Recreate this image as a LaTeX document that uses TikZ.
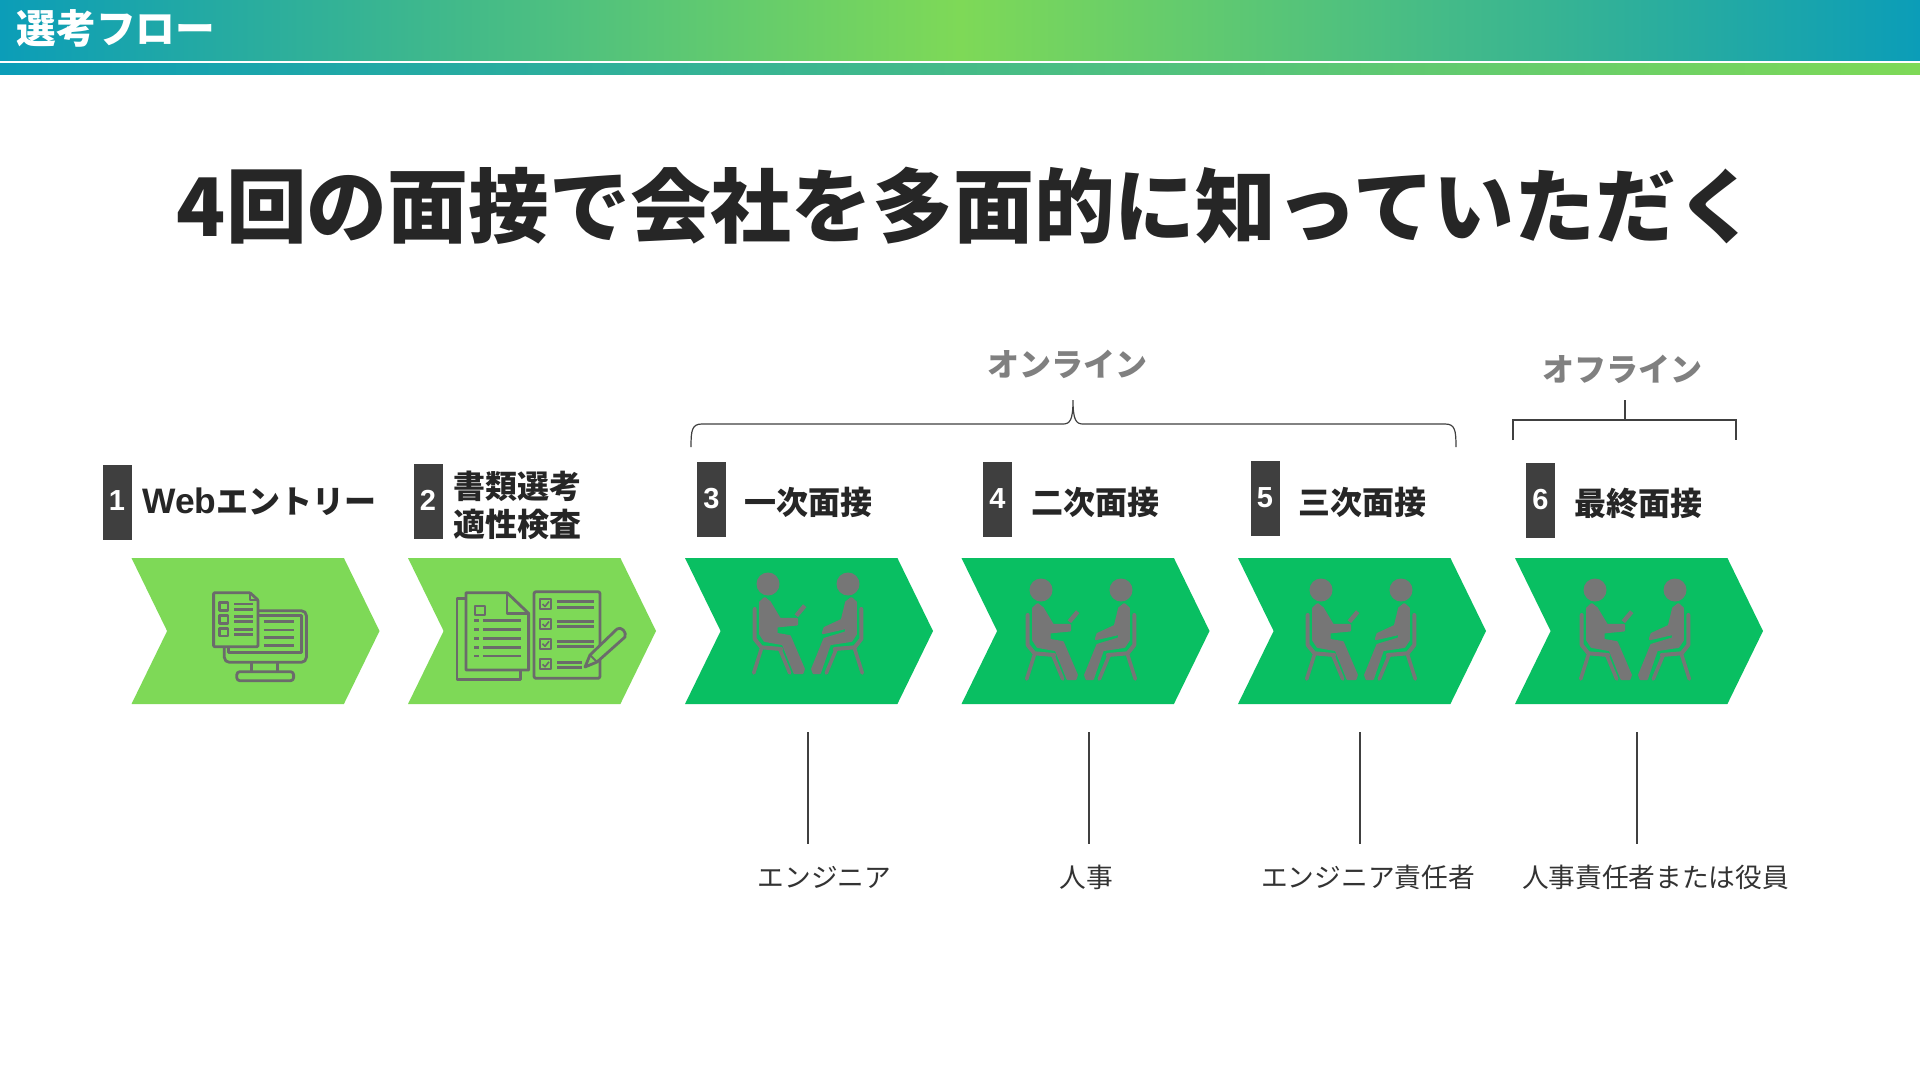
\documentclass[tikz,border=0pt]{standalone}
\usepackage{fontspec}
\usetikzlibrary{shapes.symbols}
\setmainfont{Noto Sans CJK JP}
\newfontfamily\titlefont{Noto Sans CJK JP Black}
\newfontfamily\mediumfont{Noto Sans CJK JP Medium}
\newfontfamily\latinfont{Liberation Sans}
\definecolor{tealc}{HTML}{0B9DB8}
\definecolor{limec}{HTML}{7ED957}
\definecolor{deepc}{HTML}{09BF62}
\definecolor{boxc}{HTML}{3F3F3F}
\definecolor{inkc}{HTML}{262626}
\definecolor{iconc}{HTML}{6B6B6B}
\definecolor{seatc}{HTML}{767676}
\tikzset{
	chevron/.style={shape=signal, signal from=west, signal to=east, signal pointer angle=128,
		minimum width=248, minimum height=146, inner sep=0, outer sep=0},
	numbox/.style={fill=boxc, text=white, minimum width=29, minimum height=75, inner sep=0,
		font=\latinfont\bfseries\fontsize{29}{29}\selectfont},
	steptext/.style={text=inkc, align=center, inner sep=0, font=\bfseries\fontsize{32}{38}\selectfont},
	modetext/.style={text=black!50, inner sep=0, font=\bfseries\fontsize{32}{38}\selectfont},
	whotext/.style={text=black!80, inner sep=0, font=\fontsize{26.7}{30}\selectfont},
	guide/.style={draw=black!75, line width=1.2},
	iconline/.style={draw=iconc, line width=2.8, line join=round},
	bodyfill/.style={fill=seatc, draw=seatc, line width=2.4, line join=round},
	seatchair/.pic={
		\draw[seatc, line width=4, line cap=round, line join=round] (-53.3,25) -- (-53.3,55) -- (-46.7,63.3) -- (-26.7,65);
		\draw[seatc, line width=3.6, line cap=round] (-46.7,65) -- (-54.3,89);
		\draw[seatc, line width=3.6, line cap=round] (-28.3,65) -- (-18.3,89);
	},
	sitters/.pic={
		\pic {seatchair};
		\pic[xscale=-1] {seatchair};
		\fill[seatc] (-40,0) circle (11.5);
		\fill[seatc] (40,0) circle (11.5);
		\path[bodyfill] (-47.7,18.3) -- (-43.3,14.3) -- (-38.3,18.3) -- (-28.3,35) -- (-11,35) -- (-11,40.3)
			-- (-31.7,42.3) -- (-31.7,50) -- (-18.3,52.3) -- (-4.3,85) -- (-5.7,89) -- (-13.3,89)
			-- (-25,60) -- (-43.3,56.7) -- (-47.7,50) -- cycle;
		\draw[seatc, line width=4.4] (-11.7,31.7) -- (-3.3,21.7);
		\path[bodyfill] (38.3,18.3) -- (43.3,14.3) -- (47.7,18.3) -- (47.7,50) -- (43.3,56.7) -- (21.7,60)
			-- (11.7,89) -- (5.7,89) -- (4.3,85) -- (16.5,55) -- (38,48.5) -- cycle;
		\path[bodyfill] (38.3,18.3) -- (34,36) -- (16.7,44) -- (15,49) -- (37,44) -- cycle;
	},
}
\begin{document}
\begin{tikzpicture}[x=1pt, y=-1pt]
	\useasboundingbox (0,0) rectangle (1920,1080);
	\fill[white] (0,0) rectangle (1920,1080);

	% header
	\shade[left color=tealc, right color=tealc, middle color=limec] (0,0) rectangle (1920,60);
	\shade[left color=tealc, right color=limec] (0,63) rectangle (1920,74);
	\node[text=white, inner sep=0, font=\bfseries\fontsize{39.7}{40}\selectfont] (pagehead) at (116,28) {選考フロー};
	\node[text=inkc, inner sep=0, font=\titlefont\fontsize{80.8}{81}\selectfont] (maintitle) at (967,206) {4回の面接で会社を多面的に知っていただく};

	% chevrons
	\foreach \i/\xpos/\col in {1/255.5/limec, 2/532/limec, 3/809/deepc, 4/1085.5/deepc, 5/1362/deepc, 6/1639/deepc}
		\node[chevron, fill=\col] (chev\i) at (\xpos,631) {};

	% step headings
	\foreach \i/\xpos/\ypos in {1/117/502, 2/428/501, 3/711.5/499.5, 4/997.5/499.5, 5/1265/498.5, 6/1540.5/500.5}
		\node[numbox] (num\i) at (\xpos,\ypos) {\raisebox{2pt}{\i}};
	\node[steptext] (step1) at (259.5,502) {{\latinfont\bfseries\fontsize{35.4}{38}\selectfont Web}{\mediumfont エントリー}};
	\node[steptext] (step2) at (517,505) {書類選考\\適性検査};
	\node[steptext] (step3) at (808,502) {一次面接};
	\node[steptext] (step4) at (1095,502) {二次面接};
	\node[steptext] (step5) at (1362,502) {三次面接};
	\node[steptext] (step6) at (1638,503) {最終面接};

	% online, offline
	\node[modetext] (online) at (1067,364) {オンライン};
	\node[modetext] (offline) at (1622,369) {オフライン};
	\draw[guide] (691,447) .. controls (691,430) and (692,424) .. (702,424) -- (1063,424)
		.. controls (1070,424) and (1073,420) .. (1073,400)
		.. controls (1073,420) and (1076,424) .. (1083,424) -- (1445,424)
		.. controls (1455,424) and (1456,430) .. (1456,447);
	\draw[guide] (1513,440) -- (1513,420) -- (1736,420) -- (1736,440);
	\draw[guide] (1625,400) -- (1625,420);

	% who
	\node[whotext] (who3) at (824.5,877) {エンジニア};
	\node[whotext] (who4) at (1086,877) {人事};
	\node[whotext] (who5) at (1368,877) {エンジニア責任者};
	\node[whotext] (who6) at (1655.5,877) {人事責任者または役員};
	\foreach \i/\xpos in {3/808, 4/1089, 5/1360, 6/1637} {
		\coordinate (top\i) at (\xpos,732);
		\coordinate (end\i) at (\xpos,844);
		\draw[guide] (top\i) -- (end\i);
	}

	% people
	\pic at (808,584) {sitters};
	\pic at (1081,590) {sitters};
	\pic at (1361,590) {sitters};
	\pic at (1635,590) {sitters};

	% computer icon
	\draw[iconline, rounded corners=1] (258,646.7) -- (213.6,646.7) -- (213.6,592.7) -- (250,592.7) -- (258,600) -- cycle;
	\draw[iconline] (250,592.7) -- (250,600) -- (258,600);
	\foreach \y in {602.7, 615.7, 628.3}
		\draw[iconline] (219.6,\y) rectangle (228,\y+7.7);
	\foreach \y in {604, 609.3, 616.7, 621.7, 629.3, 634.3}
		\draw[iconline] (234,\y) -- (253,\y);
	\draw[iconline, rounded corners=5] (258,610.7) -- (306.4,610.7) -- (306.4,662.3) -- (224.3,662.3) -- (224.3,647);
	\draw[iconline] (258,615.5) -- (301.8,615.5) -- (301.8,652.3) -- (228.6,652.3) -- (228.6,647);
	\foreach \y in {621.7, 630, 637.7, 645.7}
		\draw[iconline] (263.6,\y) -- (293.6,\y);
	\draw[iconline] (251.8,662.3) -- (251.8,671.7) (277.5,662.3) -- (277.5,671.7);
	\draw[iconline, rounded corners=3] (236.8,671.7) rectangle (293.6,680.7);

	% document and checklist icon
	\draw[iconline] (466,598.3) -- (457,598.3) -- (457,679.3) -- (520.7,679.3) -- (520.7,670);
	\draw[iconline] (466,592.7) -- (507,592.7) -- (528.6,613.3) -- (528.6,670) -- (466,670) -- cycle;
	\draw[iconline] (507,592.7) -- (507,613.3) -- (528.6,613.3);
	\draw[iconline] (475,606) rectangle (485,615);
	\foreach \y in {620.7, 629.3, 638.3, 647.3, 656}
		\draw[iconline] (474.3,\y) -- (479.3,\y) (482.9,\y) -- (520.7,\y);
	\draw[iconline, rounded corners=2] (534,591.7) rectangle (600,678.3);
	\foreach \y in {599, 619, 638.7, 659.3} {
		\draw[iconline, line width=2] (540,\y) rectangle (550.7,\y+10);
		\draw[iconline, line width=1.6] (542.5,\y+5) -- (545,\y+7.5) -- (549,\y+2.5);
	}
	\foreach \y in {601.7, 607.3, 621.7, 626.7, 641.7, 646.7}
		\draw[iconline] (557,\y) -- (594,\y);
	\draw[iconline] (557,662.3) -- (582,662.3) (557,667.3) -- (582,667.3);
	\draw[iconline, fill=limec] (585,667) -- (590,655) -- (617,629) .. controls (621,626) and (627,632) .. (625,637) -- (597,662) -- cycle;
	\draw[iconline, line width=1.8] (590,655) -- (597,662);
\end{tikzpicture}
\end{document}
